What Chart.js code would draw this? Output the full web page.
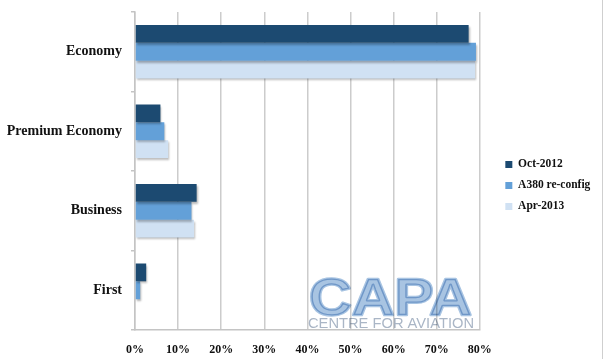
<!DOCTYPE html>
<html>
<head>
<meta charset="utf-8">
<script src="https://cdn.jsdelivr.net/npm/chart.js@4"></script>
<style>
  body { margin: 0; background: #fff; }
  #wrap { width: 602px; height: 359px; border-right: 1px solid #cfcfcf; }
</style>
</head>
<body>
<div id="wrap"><canvas id="seat-chart" width="602" height="359"></canvas></div>
<script>
const cabins = ['Economy', 'Premium Economy', 'Business', 'First'];
const oct2012 = [77.4, 5.9, 14.3, 2.6];
const a380Reconfig = [79.1, 6.8, 13.1, 1.2];
const apr2013 = [78.9, 7.7, 13.7, 0];
const xTicks = [0, 10, 20, 30, 40, 50, 60, 70, 80];

const serif = '"Liberation Serif", "DejaVu Serif", serif';

// bars get a soft drop shadow like the original
const barShadow = {
    id: 'barShadow',
    beforeDatasetsDraw(chart) {
        const ctx = chart.ctx;
        ctx.save();
        ctx.shadowColor = 'rgba(0,0,0,0.28)';
        ctx.shadowOffsetX = 1;
        ctx.shadowOffsetY = 2;
        ctx.shadowBlur = 2;
    },
    afterDatasetsDraw(chart) {
        chart.ctx.restore();
    }
};

// CAPA watermark in the lower right of the plot
const watermark = {
    id: 'watermark',
    afterDraw(chart) {
        const ctx = chart.ctx;
        ctx.save();
        ctx.globalCompositeOperation = 'multiply';
        ctx.fillStyle = '#a8c4e2';
        ctx.strokeStyle = '#a8c4e2';
        ctx.lineWidth = 2.5;
        ctx.lineJoin = 'round';
        ctx.font = 'bold 52px "Liberation Sans", Arial, sans-serif';
        const w = ctx.measureText('CAPA').width;
        ctx.translate(309, 315);
        ctx.scale(163 / w, 1);
        ctx.fillText('CAPA', 0, 0);
        ctx.strokeText('CAPA', 0, 0);
        ctx.restore();

        ctx.save();
        ctx.globalCompositeOperation = 'multiply';
        ctx.fillStyle = '#aab6c6';
        ctx.font = '14px "Liberation Sans", Arial, sans-serif';
        const w2 = ctx.measureText('CENTRE FOR AVIATION').width;
        ctx.translate(308, 328);
        ctx.scale(166 / w2, 1);
        ctx.fillText('CENTRE FOR AVIATION', 0, 0);
        ctx.restore();
    }
};

const ctx = document.getElementById('seat-chart').getContext('2d');
new Chart(ctx, {
    type: 'bar',
    data: {
        labels: cabins,
        datasets: [
            { label: 'Oct-2012', data: oct2012, backgroundColor: '#1c4a71' },
            { label: 'A380 re-config', data: a380Reconfig, backgroundColor: '#63a0d8' },
            { label: 'Apr-2013', data: apr2013, backgroundColor: '#d0e1f3' }
        ]
    },
    options: {
        indexAxis: 'y',
        responsive: false,
        animation: false,
        layout: { padding: { top: 12, right: 7, left: 0, bottom: 0 } },
        datasets: {
            bar: { categoryPercentage: 0.67, barPercentage: 1.0 }
        },
        scales: {
            x: {
                min: 0,
                max: 80,
                afterBuildTicks: (scale) => {
                    scale.ticks = xTicks.map(v => ({ value: v }));
                },
                afterFit: (scale) => { scale.height = 29; },
                border: { color: '#c4c4c4', width: 1.5 },
                grid: { color: '#cccccc', lineWidth: 1.5, drawTicks: false },
                ticks: {
                    padding: 13,
                    color: '#111',
                    font: { family: serif, size: 12, weight: 'bold' },
                    callback: (v) => v + '%'
                }
            },
            y: {
                afterFit: (scale) => {
                    scale.width = 135;
                    scale.paddingTop = 0;
                    scale.paddingBottom = 0;
                },
                border: { color: '#c4c4c4', width: 1.5 },
                grid: { drawOnChartArea: false, color: '#c4c4c4', tickLength: 4, lineWidth: 1.5 },
                ticks: {
                    padding: 9,
                    color: '#111',
                    font: { family: serif, size: 14, weight: 'bold' }
                }
            },
            // empty spacer between the plot and the legend
            gap: {
                type: 'category',
                axis: 'y',
                position: 'right',
                afterFit: (scale) => { scale.width = 16; },
                border: { display: false },
                grid: { display: false },
                ticks: { display: false }
            }
        },
        plugins: {
            legend: {
                position: 'right',
                labels: {
                    boxWidth: 7,
                    boxHeight: 7,
                    padding: 9.5,
                    color: '#111',
                    font: { family: serif, size: 11.5, weight: 'bold' }
                }
            },
            tooltip: { enabled: false }
        }
    },
    plugins: [barShadow, watermark]
});
</script>
</body>
</html>
